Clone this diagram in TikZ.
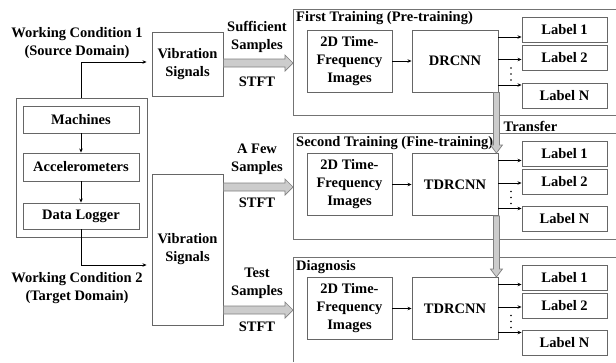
\documentclass[tikz,border=0pt]{standalone}
\usepackage{fontspec}
\setmainfont{Liberation Serif}
\usetikzlibrary{arrows.meta,calc}
\tikzset{
  box/.style={draw=black!60, line width=0.9pt, align=center, inner sep=0pt},
  frame/.style={draw=black!55, line width=0.9pt},
  arr/.style={draw=black, line width=0.8pt, -{Stealth[length=4pt,width=3.5pt]}},
  fat/.style={draw=black!50, line width=0.7pt, fill=black!20},
  lbl/.style={align=center, inner sep=0pt},
}
\newcommand\hfat[2]{\draw[fat] let \p1=(#1), \p2=(#2) in
  (\x1,\y1+4pt) -- (\x2-8pt,\y1+4pt) -- (\x2-8pt,\y1+8pt) -- (\x2,\y1) --
  (\x2-8pt,\y1-8pt) -- (\x2-8pt,\y1-4pt) -- (\x1,\y1-4pt) -- cycle;}
\newcommand\vfat[2]{\draw[fat] let \p1=(#1), \p2=(#2) in
  (\x1-3pt,\y1) -- (\x1-3pt,\y2+8pt) -- (\x1-6pt,\y2+8pt) -- (\x1,\y2) --
  (\x1+6pt,\y2+8pt) -- (\x1+3pt,\y2+8pt) -- (\x1+3pt,\y1) -- cycle;}
\begin{document}
\begin{tikzpicture}[x=1pt,y=-1pt,font=\bfseries\fontsize{14.5}{18}\selectfont]
\useasboundingbox (0,0) rectangle (616,362);

% left block
\node[box, minimum width=131, minimum height=139] (outer) at (81.5,167.5) {};
\node[box, minimum width=116, minimum height=27] (mach) at (81,119.5) {Machines};
\node[box, minimum width=116, minimum height=28] (acc) at (81,167) {Accelerometers};
\node[box, minimum width=116, minimum height=26] (dl) at (81,216) {Data Logger};
\draw[arr] (mach) -- (acc);
\draw[arr] (acc) -- (dl);

% vibration signals
\node[box, minimum width=71, minimum height=64] (vs1) at (187.5,64) {Vibration\\Signals};
\node[box, minimum width=71, minimum height=151] (vs2) at (187.5,249.5) {Vibration\\Signals};

\coordinate (e1) at ([xshift=-5pt]vs1.west |- 0,62);
\coordinate (e2) at ([xshift=-5pt]vs2.west |- 0,265);
\draw[arr] (outer.north) |- (e1);
\draw[arr] (dl.south) |- (e2);

\node[lbl] (wc1) at (77,43) {Working Condition 1\\(Source Domain)};
\node[lbl] (wc2) at (77,288) {Working Condition 2\\(Target Domain)};

% sample labels
\node[lbl] (suf) at (257,36.5) {Sufficient\\Samples};
\node[lbl] (st1) at (257,82) {STFT};
\node[lbl] (few) at (257,159) {A Few\\Samples};
\node[lbl] (st2) at (257,203) {STFT};
\node[lbl] (tst) at (257,283) {Test\\Samples};
\node[lbl] (st3) at (257,327) {STFT};

% panels
\draw[frame] (616,9) -- (293,9) -- (293,115) -- (616,115);
\draw[frame] (616,133) -- (293,133) -- (293,239) -- (616,239);
\draw[frame] (616,257) -- (293,257) -- (293,362);
\coordinate (p1) at (293,63);
\coordinate (p2) at (293,187);
\coordinate (p3) at (293,310);

\node[anchor=west, inner sep=0pt] (t1) at (296,18) {First Training (Pre-training)};
\node[anchor=west, inner sep=0pt] (t2) at (296,143) {Second Training (Fine-training)};
\node[anchor=west, inner sep=0pt] (t3) at (296,267) {Diagnosis};
\node[lbl] (tr) at (530.5,126) {Transfer};

\foreach \i/\cy/\net in {1/61/DRCNN, 2/184.5/TDRCNN, 3/308.5/TDRCNN}{
  \node[box, minimum width=85, minimum height=62] (tf\i) at (349.5,\cy) {2D Time-\\Frequency\\Images};
  \node[box, minimum width=86, minimum height=62] (cnn\i) at (455,\cy) {\net};
  \draw[arr] (tf\i) -- (cnn\i);
  \node[box, minimum width=85, minimum height=25] (la\i) at (564.5,\cy-31) {Label 1};
  \node[box, minimum width=85, minimum height=25] (lb\i) at (564.5,\cy-3) {Label 2};
  \node[box, minimum width=85, minimum height=25] (lc\i) at (564.5,\cy+34.5) {Label N};
  \coordinate (oa\i) at ([yshift=24pt]cnn\i.east);
  \coordinate (ob\i) at ([yshift=1.5pt]cnn\i.east);
  \coordinate (oc\i) at ([yshift=-24pt]cnn\i.east);
  \draw[arr] (oa\i) -- (oa\i -| la\i.west);
  \draw[arr] (ob\i) -- (ob\i -| lb\i.west);
  \draw[arr] (oc\i) -- (oc\i -| lc\i.west);
  \foreach \d in {7,13,19}{
    \fill ([yshift=-\d pt]cnn\i.east -| 511,0) circle (0.9);
  }
}

% fat arrows
\coordinate (h1) at (vs1.east |- p1);
\coordinate (h2) at (vs2.east |- p2);
\coordinate (h3) at (vs2.east |- p3);
\hfat{h1}{p1}
\hfat{h2}{p2}
\hfat{h3}{p3}
\coordinate (v1s) at ([xshift=-2pt]cnn1.south east);
\coordinate (v1e) at ([xshift=-2pt]cnn2.north east);
\coordinate (v2s) at ([xshift=-2pt]cnn2.south east);
\coordinate (v2e) at ([xshift=-2pt]cnn3.north east);
\vfat{v1s}{v1e}
\vfat{v2s}{v2e}
\end{tikzpicture}
\end{document}
